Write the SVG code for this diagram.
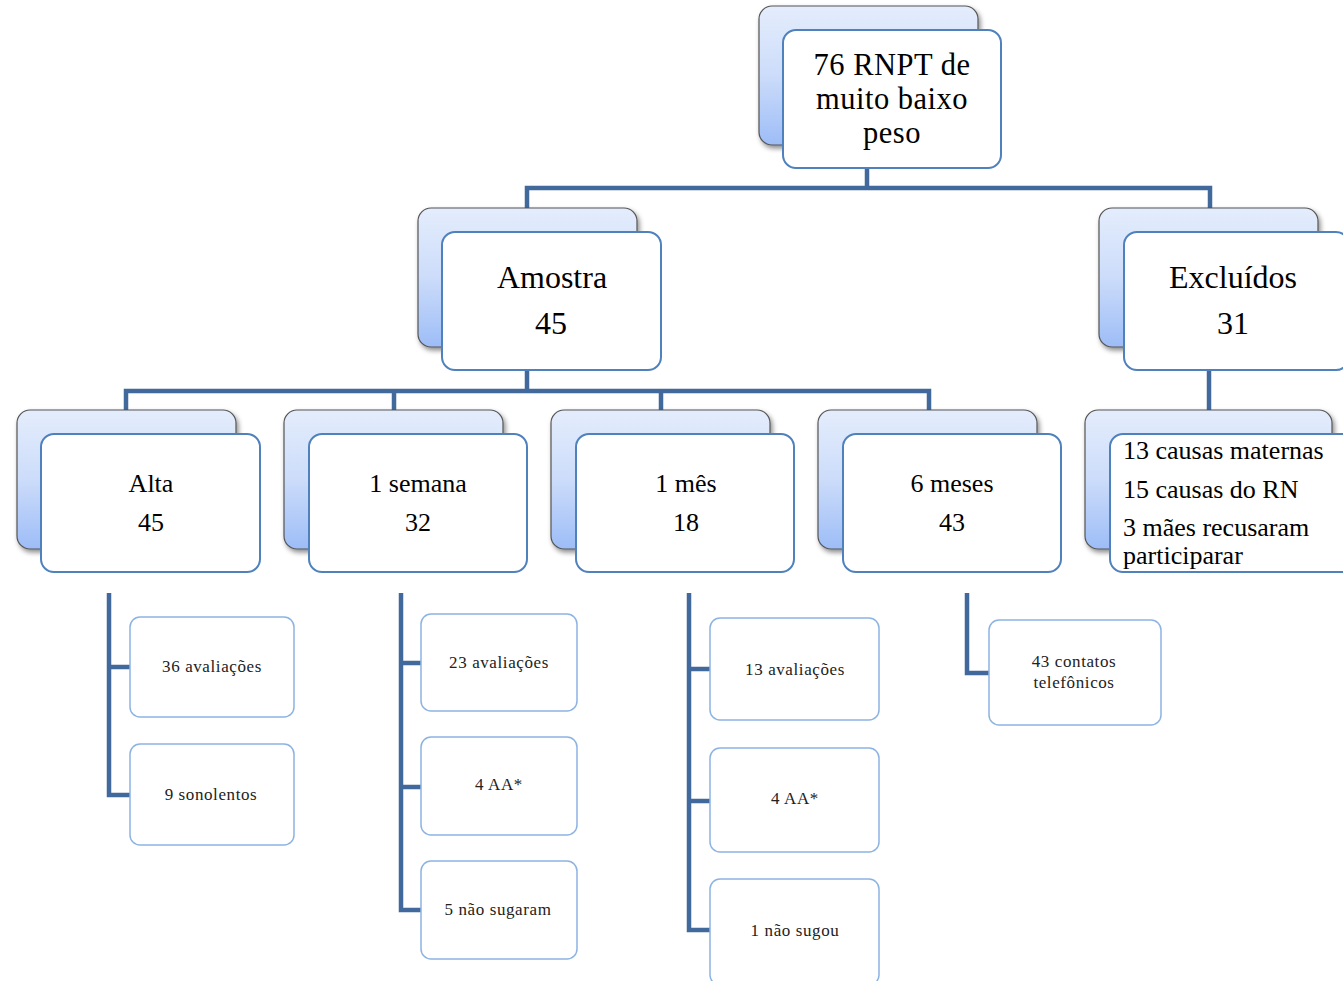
<svg xmlns="http://www.w3.org/2000/svg" width="1343" height="981" viewBox="0 0 1343 981">
<style>
.back{fill:url(#bg);stroke:#555;stroke-width:1.2;filter:url(#sh)}
.front{fill:#fff;stroke:#4f81bd;stroke-width:2}
.small{fill:#fff;stroke:#8db3e2;stroke-width:1.5}
.conn{fill:none;stroke:#41699c;stroke-width:4.5;stroke-linejoin:miter}
.t0{font-family:"Liberation Serif",serif;font-size:30.5px;letter-spacing:0.5px;fill:#000;text-anchor:middle}
.t1{font-family:"Liberation Serif",serif;font-size:32px;fill:#000;text-anchor:middle}
.t2{font-family:"Liberation Serif",serif;font-size:26px;fill:#000;text-anchor:middle}
.t3{font-family:"Liberation Serif",serif;font-size:26px;fill:#000}
.ts{font-family:"Liberation Serif",serif;font-size:17px;fill:#222;text-anchor:middle;letter-spacing:0.6px}
</style>
<defs>
<linearGradient id="bg" x1="0" y1="0" x2="0" y2="1">
<stop offset="0" stop-color="#e4edfc"/>
<stop offset="0.5" stop-color="#ccdcfa"/>
<stop offset="1" stop-color="#9dbdf7"/>
</linearGradient>
<filter id="sh" x="-10%" y="-10%" width="130%" height="130%">
<feDropShadow dx="2" dy="3" stdDeviation="2.5" flood-color="#000" flood-opacity="0.45"/>
</filter>
</defs>
<rect width="1343" height="981" fill="#fff"/>
<g id="connectors">
<path class="conn" d="M867 168 V188 M527 208 V188 H1210 V208"/>
<path class="conn" d="M527 370 V391 M126 410 V391 H929 V410 M394 391 V410 M661 391 V410"/>
<path class="conn" d="M1209 370 V410"/>
<path class="conn" d="M109 593 V795 H130 M109 667 H130"/>
<path class="conn" d="M401 593 V910 H421 M401 663 H421 M401 787 H421"/>
<path class="conn" d="M689 593 V930 H710 M689 669 H710 M689 801 H710"/>
<path class="conn" d="M967 593 V673 H989"/>
</g>
<g id="n-root">
<rect class="back" x="759" y="6" width="219" height="139" rx="13"/>
<rect class="front" x="783" y="30" width="218" height="138" rx="13"/>
<text class="t0" x="892" y="75">76 RNPT de</text>
<text class="t0" x="892" y="109">muito baixo</text>
<text class="t0" x="892" y="143">peso</text>
</g>
<g id="n-amostra">
<rect class="back" x="418" y="208" width="219" height="139" rx="13"/>
<rect class="front" x="442" y="232" width="219" height="138" rx="13"/>
<text class="t1" x="552" y="288">Amostra</text>
<text class="t1" x="551" y="334">45</text>
</g>
<g id="n-excluidos">
<rect class="back" x="1099" y="208" width="219" height="139" rx="13"/>
<rect class="front" x="1124" y="232" width="225" height="138" rx="13"/>
<text class="t1" x="1233" y="288">Excluídos</text>
<text class="t1" x="1233" y="334">31</text>
</g>
<g id="n-alta">
<rect class="back" x="17" y="410" width="219" height="139" rx="13"/>
<rect class="front" x="41" y="434" width="219" height="138" rx="13"/>
<text class="t2" x="151" y="492">Alta</text>
<text class="t2" x="151" y="531">45</text>
</g>
<g id="n-semana">
<rect class="back" x="284" y="410" width="219" height="139" rx="13"/>
<rect class="front" x="309" y="434" width="218" height="138" rx="13"/>
<text class="t2" x="418" y="492">1 semana</text>
<text class="t2" x="418" y="531">32</text>
</g>
<g id="n-mes">
<rect class="back" x="551" y="410" width="219" height="139" rx="13"/>
<rect class="front" x="576" y="434" width="218" height="138" rx="13"/>
<text class="t2" x="686" y="492">1 mês</text>
<text class="t2" x="686" y="531">18</text>
</g>
<g id="n-6meses">
<rect class="back" x="818" y="410" width="219" height="139" rx="13"/>
<rect class="front" x="843" y="434" width="218" height="138" rx="13"/>
<text class="t2" x="952" y="492">6 meses</text>
<text class="t2" x="952" y="531">43</text>
</g>
<g id="n-causas">
<rect class="back" x="1085" y="410" width="247" height="139" rx="13"/>
<rect class="front" x="1110" y="434" width="245" height="138" rx="13"/>
<text class="t3" x="1123" y="459">13 causas maternas</text>
<text class="t3" x="1123" y="498">15 causas do RN</text>
<text class="t3" x="1123" y="536">3 mães recusaram</text>
<text class="t3" x="1123" y="564">participarar</text>
</g>
<g id="n-a1">
<rect class="small" x="130" y="617" width="164" height="100" rx="10"/>
<text class="ts" x="212" y="672">36 avaliações</text>
</g>
<g id="n-a2">
<rect class="small" x="130" y="744" width="164" height="101" rx="10"/>
<text class="ts" x="211" y="800">9 sonolentos</text>
</g>
<g id="n-s1">
<rect class="small" x="421" y="614" width="156" height="97" rx="10"/>
<text class="ts" x="499" y="668">23 avaliações</text>
</g>
<g id="n-s2">
<rect class="small" x="421" y="737" width="156" height="98" rx="10"/>
<text class="ts" x="499" y="790">4 AA*</text>
</g>
<g id="n-s3">
<rect class="small" x="421" y="861" width="156" height="98" rx="10"/>
<text class="ts" x="498" y="915">5 não sugaram</text>
</g>
<g id="n-m1">
<rect class="small" x="710" y="618" width="169" height="102" rx="10"/>
<text class="ts" x="795" y="675">13 avaliações</text>
</g>
<g id="n-m2">
<rect class="small" x="710" y="748" width="169" height="104" rx="10"/>
<text class="ts" x="795" y="804">4 AA*</text>
</g>
<g id="n-m3">
<rect class="small" x="710" y="879" width="169" height="106" rx="10"/>
<text class="ts" x="795" y="936">1 não sugou</text>
</g>
<g id="n-6m1">
<rect class="small" x="989" y="620" width="172" height="105" rx="10"/>
<text class="ts" x="1074" y="667">43 contatos</text>
<text class="ts" x="1074" y="688">telefônicos</text>
</g>
</svg>
